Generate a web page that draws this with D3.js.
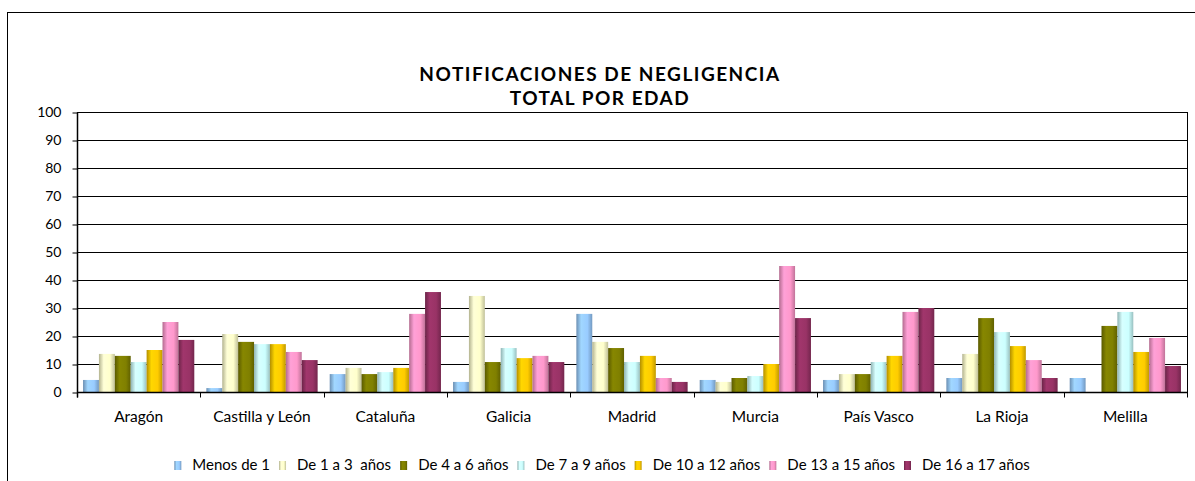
<!DOCTYPE html>
<html>
<head>
<meta charset="utf-8">
<script src="https://cdn.jsdelivr.net/npm/d3@7"></script>
<style>
  html, body { margin: 0; padding: 0; background: #fff; }
  svg { display: block; font-family: Lato, "Noto Sans", sans-serif; }
</style>
</head>
<body>
<svg id="chart" width="1195" height="481"></svg>
<script>
// Regions shown along the x axis
const regions = ["Aragón", "Castilla y León", "Cataluña", "Galicia", "Madrid", "Murcia", "País Vasco", "La Rioja", "Melilla"];

// Age groups (one bar per group inside each region)
const ageGroups = ["Menos de 1", "De 1 a 3  años", "De 4 a 6 años", "De 7 a 9 años", "De 10 a 12 años", "De 13 a 15 años", "De 16 a 17 años"];

// Percentage of notifications, one array per age group, in region order
const menos1   = [4.3, 1.4, 6.4, 3.6, 27.9, 4.3, 4.3, 5.0, 5.0];
const de1a3    = [13.6, 20.7, 8.6, 34.3, 17.9, 3.6, 6.4, 13.6, 0];
const de4a6    = [12.9, 17.9, 6.4, 10.7, 15.7, 5.0, 6.4, 26.4, 23.6];
const de7a9    = [10.7, 17.1, 7.1, 15.7, 10.7, 5.7, 10.7, 21.4, 28.6];
const de10a12  = [15.0, 17.1, 8.6, 12.1, 12.9, 10.0, 12.9, 16.4, 14.3];
const de13a15  = [25.0, 14.3, 27.9, 12.9, 5.0, 45.0, 28.6, 11.4, 19.3];
const de16a17  = [18.6, 11.4, 35.7, 10.7, 3.6, 26.4, 30.0, 5.0, 9.3];

const seriesValues = [menos1, de1a3, de4a6, de7a9, de10a12, de13a15, de16a17];

// Y axis ticks
const yTicks = [0, 10, 20, 30, 40, 50, 60, 70, 80, 90, 100];

// Title lines
const titleLines = ["NOTIFICACIONES DE NEGLIGENCIA", "TOTAL POR EDAD"];

// Bar fill colours per age group
const colors = ["#99CCFF", "#FFFFCC", "#808000", "#CCFFFF", "#FFCC00", "#FF99CC", "#993366"];

const svg = d3.select("#chart");
const plot = { left: 77, right: 1187, top: 112, bottom: 392 };

// Shaded gradients giving each bar its rounded look
const defs = svg.append("defs");
colors.forEach((c, i) => {
  const base = d3.color(c);
  const g = defs.append("linearGradient")
    .attr("id", "grad" + i)
    .attr("x1", "0%").attr("x2", "100%").attr("y1", "0%").attr("y2", "0%");
  g.append("stop").attr("offset", "0%").attr("stop-color", base.darker(1.0));
  g.append("stop").attr("offset", "30%").attr("stop-color", base.brighter(0.15));
  g.append("stop").attr("offset", "70%").attr("stop-color", base);
  g.append("stop").attr("offset", "100%").attr("stop-color", base.darker(0.8));
});

// Outer chart frame
svg.append("rect")
  .attr("x", 7.5).attr("y", 12.5)
  .attr("width", 1200).attr("height", 500)
  .attr("fill", "#fff").attr("stroke", "#000").attr("stroke-width", 1);

// Title
svg.append("g").selectAll("text")
  .data(titleLines)
  .join("text")
  .attr("x", 600)
  .attr("y", (d, i) => 81 + i * 24)
  .attr("text-anchor", "middle")
  .attr("font-size", 19)
  .attr("font-weight", "bold")
  .attr("letter-spacing", 1.5)
  .attr("fill", "#000")
  .text(d => d);

// Scales
const x0 = d3.scaleBand().domain(regions).range([plot.left, plot.right]).paddingInner(0).paddingOuter(0);
const x1 = d3.scaleBand().domain(d3.range(ageGroups.length)).range([0, x0.bandwidth()]).paddingInner(0).paddingOuter(0.38);
const y = d3.scaleLinear().domain([0, 100]).range([plot.bottom, plot.top]);

// Horizontal gridlines
svg.append("g").selectAll("line")
  .data(yTicks)
  .join("line")
  .attr("x1", plot.left).attr("x2", plot.right)
  .attr("y1", d => Math.round(y(d)) + 0.5).attr("y2", d => Math.round(y(d)) + 0.5)
  .attr("stroke", "#000").attr("stroke-width", 1);

// Right edge of the plot area
svg.append("line")
  .attr("x1", plot.right + 0.5).attr("x2", plot.right + 0.5)
  .attr("y1", plot.top).attr("y2", plot.bottom)
  .attr("stroke", "#000");

// Bars
const rows = regions.map((r, ri) => ({ region: r, values: seriesValues.map((s, si) => ({ si, v: s[ri] })) }));
svg.append("g").selectAll("g")
  .data(rows)
  .join("g")
  .attr("transform", d => `translate(${x0(d.region)},0)`)
  .selectAll("rect")
  .data(d => d.values.filter(e => e.v > 0))
  .join("rect")
  .attr("x", d => x1(d.si))
  .attr("width", x1.bandwidth())
  .attr("y", d => y(d.v))
  .attr("height", d => y(0) - y(d.v))
  .attr("fill", d => `url(#grad${d.si})`);

// Y axis
const yAxis = svg.append("g")
  .attr("transform", `translate(${plot.left + 0.5},0.5)`)
  .call(d3.axisLeft(y).tickValues(yTicks).tickSize(5).tickSizeOuter(0).tickPadding(11));
yAxis.select(".domain").attr("stroke", "#000").attr("stroke-width", 1.5).attr("d", `M0,${plot.top}V${plot.bottom + 5}`);
yAxis.selectAll(".tick line").attr("stroke", "#000");
yAxis.selectAll(".tick text").attr("font-size", 14).attr("fill", "#000").attr("font-family", "Lato, 'Noto Sans', sans-serif");

// X axis: boundaries between regions carry the tick marks
const xAxis = svg.append("g").attr("transform", `translate(0,${plot.bottom + 0.5})`);
xAxis.append("line")
  .attr("x1", plot.left).attr("x2", plot.right + 1)
  .attr("stroke", "#000").attr("stroke-width", 1.5);
xAxis.selectAll("line.tick")
  .data(regions.concat(["_end"]))
  .join("line")
  .attr("class", "tick")
  .attr("x1", (d, i) => Math.round(plot.left + i * x0.step()) + 0.5)
  .attr("x2", (d, i) => Math.round(plot.left + i * x0.step()) + 0.5)
  .attr("y1", 0).attr("y2", 5)
  .attr("stroke", "#000");
xAxis.selectAll("text")
  .data(regions)
  .join("text")
  .attr("x", d => x0(d) + x0.bandwidth() / 2)
  .attr("y", 29)
  .attr("text-anchor", "middle")
  .attr("font-size", 15.5)
  .attr("fill", "#000")
  .text(d => d);

// Legend, laid out from measured text widths and centred under the plot
const legend = svg.append("g");
const items = legend.selectAll("g")
  .data(ageGroups)
  .join("g");
items.append("rect")
  .attr("width", 7).attr("height", 9)
  .attr("y", 461)
  .attr("fill", (d, i) => `url(#grad${i})`);
items.append("text")
  .attr("y", 470)
  .attr("font-size", 15)
  .attr("fill", "#000")
  .style("white-space", "pre")
  .text(d => d);
let cursor = 0;
const offsets = [];
items.each(function () {
  const w = d3.select(this).select("text").node().getComputedTextLength();
  offsets.push(cursor);
  cursor += 7 + 11 + w + 9;
});
const totalW = cursor - 9;
const start = 602 - totalW / 2;
items.each(function (d, i) {
  const g = d3.select(this);
  g.select("rect").attr("x", start + offsets[i]);
  g.select("text").attr("x", start + offsets[i] + 18);
});
</script>
</body>
</html>
